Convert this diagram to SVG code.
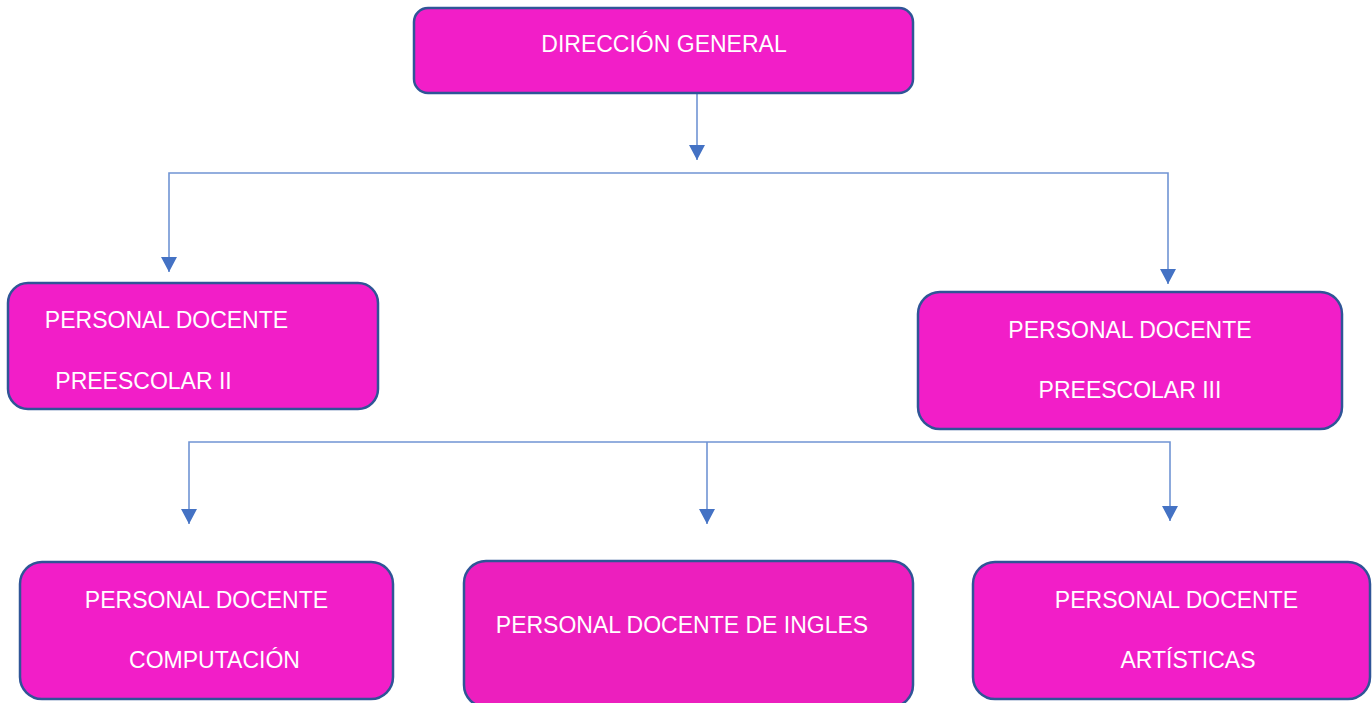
<svg xmlns="http://www.w3.org/2000/svg" width="1372" height="703" viewBox="0 0 1372 703">
<style>
.box{fill:#F21EC8;stroke:#2F5597;stroke-width:2.5}
.box2{fill:#EC1FBE;stroke:#2F5597;stroke-width:2.5}
.lbl{font-family:"Liberation Sans",Arial,sans-serif;font-size:23px;fill:#FFFFFF;text-anchor:middle}
.con{fill:none;stroke:#7094D4;stroke-width:1.6;marker-end:url(#ah)}
</style>
<defs>
<marker id="ah" viewBox="0 0 15 16" refX="15" refY="8" markerWidth="15" markerHeight="16" markerUnits="userSpaceOnUse" orient="auto">
<path d="M0,0 L15,8 L0,16 Z" fill="#4472C4"/>
</marker>
</defs>
<rect width="1372" height="703" fill="#FFFFFF"/>
<g id="connectors">
<path class="con" d="M697,94 V160"/>
<path class="con" d="M697,173 H169 V272"/>
<path class="con" d="M697,173 H1168 V284"/>
<path class="con" d="M707,442 H189 V524"/>
<path class="con" d="M707,442 V524"/>
<path class="con" d="M707,442 H1170 V521"/>
</g>
<g id="direccion">
<rect class="box" x="414" y="8" width="499" height="85" rx="14"/>
<text class="lbl" x="664" y="52">DIRECCIÓN GENERAL</text>
</g>
<g id="preescolar2">
<rect class="box" x="8" y="283" width="370" height="126" rx="20"/>
<text class="lbl" x="166.5" y="328">PERSONAL DOCENTE</text>
<text class="lbl" x="143.5" y="389">PREESCOLAR II</text>
</g>
<g id="preescolar3">
<rect class="box" x="918" y="292" width="424" height="137" rx="22"/>
<text class="lbl" x="1130" y="338">PERSONAL DOCENTE</text>
<text class="lbl" x="1130" y="398">PREESCOLAR III</text>
</g>
<g id="computacion">
<rect class="box" x="20" y="562" width="373" height="137" rx="22"/>
<text class="lbl" x="206.5" y="608">PERSONAL DOCENTE</text>
<text class="lbl" x="214.5" y="668">COMPUTACIÓN</text>
</g>
<g id="ingles">
<rect class="box2" x="464" y="561" width="449" height="146" rx="22"/>
<text class="lbl" x="682" y="633">PERSONAL DOCENTE DE INGLES</text>
</g>
<g id="artisticas">
<rect class="box" x="973" y="562" width="397" height="137" rx="22"/>
<text class="lbl" x="1176.5" y="608">PERSONAL DOCENTE</text>
<text class="lbl" x="1188" y="668">ARTÍSTICAS</text>
</g>
</svg>
